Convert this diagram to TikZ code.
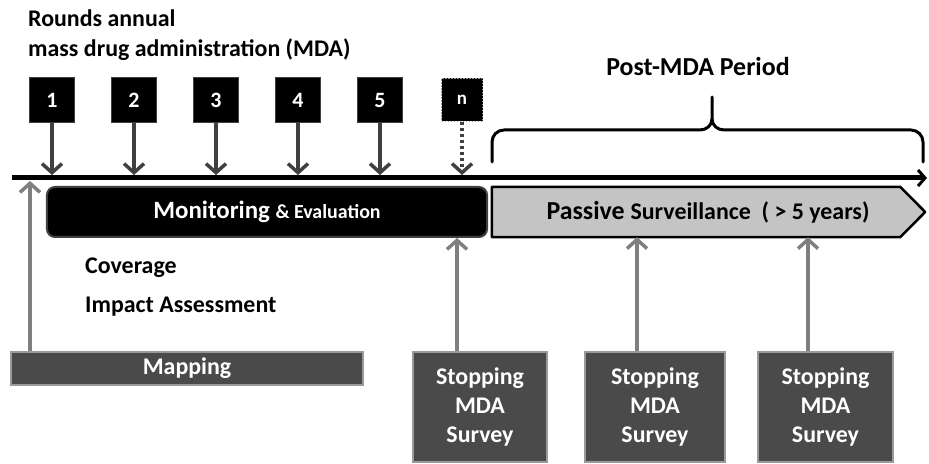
\documentclass[tikz,border=0pt]{standalone}
\usepackage{fontspec}
\setmainfont{Carlito}
\usetikzlibrary{arrows.meta}
\definecolor{darkarr}{HTML}{404040}
\definecolor{lightarr}{HTML}{7F7F7F}
\definecolor{boxfill}{HTML}{4A4A4A}
\definecolor{boxedge}{HTML}{9A9A9A}
\definecolor{passfill}{HTML}{C4C4C4}
\newcommand{\fs}[1]{\fontsize{#1}{#1}\selectfont}
\tikzset{
  numbox/.style={fill=black, draw=darkarr, line width=1bp, minimum width=45bp, minimum height=45bp,
    inner sep=0pt, text=white, font=\bfseries\fs{22}},
  downarr/.style={draw=darkarr, line width=3.5bp, -{Straight Barb[length=9bp,width=20bp,line width=3.5bp]}},
  uparr/.style={draw=lightarr, line width=3.5bp, -{Straight Barb[length=9bp,width=20bp,line width=3.5bp]}},
  graybox/.style={fill=boxfill, draw=boxedge, line width=2bp, inner sep=0pt, text=white, font=\bfseries\fs{24}},
  survey/.style={graybox, minimum height=110bp, align=center, font=\bfseries\fontsize{24}{29}\selectfont},
  plain/.style={font=\bfseries\fs{24}, inner sep=0pt, anchor=base west}
}
\begin{document}
\begin{tikzpicture}[x=1bp,y=-1bp]
\useasboundingbox (0,0) rectangle (929,464);
% title
\node[plain] (t1) at (28,27) {Rounds annual};
\node[plain] (t2) at (28,57) {mass drug administration (MDA)};
% number boxes
\node[numbox] (b1) at (52,100) {1};
\node[numbox] (b2) at (134,100) {2};
\node[numbox] (b3) at (216,100) {3};
\node[numbox] (b4) at (298,100) {4};
\node[numbox] (b5) at (380,100) {5};
\node[numbox, draw=boxedge, dash pattern=on 1.5bp off 1.5bp, line width=1.5bp, minimum width=41bp, minimum height=43bp, font=\bfseries\fs{19}] (bn) at (462,100) {n};
% timeline
\coordinate (tl) at (12,178);
\coordinate (tr) at (927,178);
\draw[line width=5bp, -{Straight Barb[length=7bp,width=16bp,line width=3bp]}] (tl) -- (tr);
\coordinate (tlt) at (0,175);
\foreach \b in {b1,b2,b3,b4,b5}{
  \draw[downarr] (\b.south) -- (\b.south |- tlt);
}
\draw[downarr, dash pattern=on 3bp off 3bp] (bn.south) -- (bn.south |- tlt);
% bars
\node[fill=black, draw=darkarr, line width=2bp, rounded corners=8bp, minimum width=440bp, minimum height=50bp,
  text=white, inner sep=0pt] (mon) at (267,212) {\bfseries\fs{25}Monitoring \fs{20}\& Evaluation};
\node[minimum width=408bp, minimum height=50bp, inner sep=0pt] (pas) at (696,212) {};
\draw[fill=passfill, draw=black, line width=2.5bp, line join=round]
  (pas.north west) -- (pas.north east) -- ([xshift=25bp]pas.east) -- (pas.south east) -- (pas.south west) -- cycle;
\node[inner sep=0pt] (pastext) at (708,212) {\bfseries\fs{26}Passive \fs{24}Surveillance \ ( > 5 years)};
% brace
\node[font=\bfseries\fs{26}, inner sep=0pt] (post) at (698,67) {Post-MDA Period};
\coordinate (brl) at (492,162);
\coordinate (brr) at (923,162);
\coordinate (brt) at (712,97);
\draw[line width=3bp, line cap=round] (brl) -- (492,142) to[out=90,in=180] (504,130) -- (700,130)
  to[out=0,in=-90] (brt |- 0,119) -- (brt);
\draw[line width=3bp, line cap=round] (brt |- 0,119) to[out=-90,in=180] (724,130) -- (911,130)
  to[out=0,in=90] (923,142) -- (brr);
% text
\node[plain] (cov) at (85,274) {Coverage};
\node[plain] (imp) at (85,313) {Impact Assessment};
% mapping
\node[graybox, minimum width=352bp, minimum height=33bp] (map) at (187,368.5) {Mapping};
\coordinate (mx) at (30,181);
\draw[uparr] (mx |- map.north) -- (mx);
% surveys
\node[survey, minimum width=134bp] (s1) at (480,407) {Stopping\\MDA\\Survey};
\node[survey, minimum width=140bp] (s2) at (655,407) {Stopping\\MDA\\Survey};
\node[survey, minimum width=135bp] (s3) at (825.5,407) {Stopping\\MDA\\Survey};
\coordinate (a1) at (457,0);
\coordinate (a2) at (637,0);
\coordinate (a3) at (808,0);
\draw[uparr] (a1 |- s1.north) -- (a1 |- mon.south);
\draw[uparr] (a2 |- s2.north) -- (a2 |- pas.south);
\draw[uparr] (a3 |- s3.north) -- (a3 |- pas.south);
\end{tikzpicture}
\end{document}
